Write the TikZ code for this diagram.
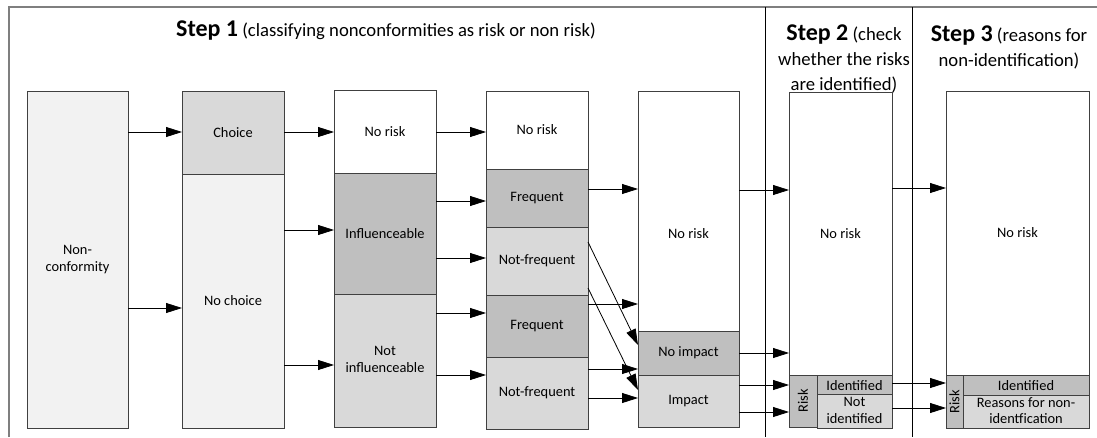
\documentclass[tikz,border=0pt]{standalone}
\usepackage{fontspec}
\setmainfont{Carlito}
\usetikzlibrary{arrows.meta}
\definecolor{GreyLight}{HTML}{F2F2F2}
\definecolor{GreyMid}{HTML}{D9D9D9}
\definecolor{GreyDark}{HTML}{BFBFBF}
\definecolor{FrameGrey}{HTML}{7F7F7F}

% one cell of a column: name, corners (px), fill, text
\newcommand{\boxcell}[7]{\node[cell, fill=#6, minimum width={(#4-#2)*0.75pt},
  minimum height={(#5-#3)*0.75pt}] (#1) at ({(#2+#4)/2},{(#3+#5)/2}) {#7};}
\newcommand{\twolines}[2]{\begin{tabular}{@{}c@{}}#1\\#2\end{tabular}}
\newcommand{\stepfont}{\fontsize{18}{18.75}\selectfont\bfseries}

\begin{document}
\begin{tikzpicture}[x=0.75pt, y=-0.75pt,
    cell/.style={draw=black!75, line width=0.6pt, inner sep=0pt, outer sep=0pt,
      font=\fontsize{10.8}{12.5}\selectfont},
    head/.style={align=center, inner sep=0pt, font=\fontsize{14}{18.75}\selectfont},
    arr/.style={-{Triangle[length=12pt,width=7.5pt]}, line width=0.6pt}]
  \useasboundingbox (0,0) rectangle (1097,437);

  % frame and step separators
  \draw[FrameGrey, line width=1.5pt] (9,437) -- (9,7) -- (1097,7);
  \draw[line width=0.6pt] (765,7) -- (765,437);
  \draw[line width=0.6pt] (912,7) -- (912,437);

  \node[head] (step1) at (386,31) {{\stepfont Step 1} (classifying nonconformities as risk or non risk)};
  \node[head] (step2) at (844,59) {{\stepfont Step 2} (check\\whether the risks\\are identified)};
  \node[head] (step3) at (1009,47) {{\stepfont Step 3} (reasons for\\non-identification)};

  % Step 1
  \boxcell{nc}{27}{91}{128}{428}{GreyLight}{\twolines{Non-}{conformity}}
  \boxcell{choice}{182}{91}{284}{174}{GreyMid}{Choice}
  \boxcell{nochoice}{182}{174}{284}{428}{GreyLight}{No choice}
  \boxcell{norisk1}{334}{90}{436}{173}{white}{No risk}
  \boxcell{infl}{334}{173}{436}{294}{GreyDark}{Influenceable}
  \boxcell{notinfl}{334}{294}{436}{427}{GreyMid}{\twolines{Not}{influenceable}}
  \boxcell{norisk2}{486}{91}{588}{169}{white}{No risk}
  \boxcell{freq1}{486}{169}{588}{227}{GreyDark}{Frequent}
  \boxcell{notfreq1}{486}{227}{588}{295}{GreyMid}{Not-frequent}
  \boxcell{freq2}{486}{295}{588}{357}{GreyDark}{Frequent}
  \boxcell{notfreq2}{486}{357}{588}{429}{GreyMid}{Not-frequent}
  \boxcell{norisk3}{638}{91}{739}{331}{white}{}
  \node[font=\fontsize{10.8}{12.5}\selectfont] (norisk3txt) at (norisk3 |- 0,234) {No risk};
  \boxcell{noimpact}{638}{331}{739}{375}{GreyDark}{No impact}
  \boxcell{impact}{638}{375}{739}{427}{GreyMid}{Impact}

  % Step 2
  \boxcell{norisk4}{789}{92}{892}{375}{white}{No risk}
  \boxcell{risk1}{789}{375}{817}{427}{GreyDark}{\rotatebox{90}{Risk}}
  \boxcell{ident1}{817}{375}{892}{396}{GreyDark}{Identified}
  \boxcell{notident}{817}{396}{892}{427}{GreyMid}{\twolines{Not}{identified}}

  % Step 3
  \boxcell{norisk5}{946}{91}{1089}{375}{white}{No risk}
  \boxcell{risk2}{946}{375}{963}{428}{GreyDark}{\rotatebox{90}{Risk}}
  \boxcell{ident2}{963}{375}{1089}{396}{GreyDark}{Identified}
  \boxcell{reasons}{963}{396}{1089}{428}{GreyMid}{\twolines{Reasons for non-}{identfication}}

  % connectors
  \foreach \a/\b/\y in {nc/choice/132, nc/nochoice/308, choice/norisk1/132,
      nochoice/infl/230, nochoice/notinfl/365, norisk1/norisk2/132,
      infl/freq1/201, infl/notfreq1/258, notinfl/freq2/313, notinfl/notfreq2/375,
      freq1/norisk3/189, freq2/norisk3/304, notfreq2/noimpact/369, notfreq2/impact/398,
      norisk3/norisk4/190, noimpact/norisk4/353, impact/risk1/385, impact/risk1/412,
      norisk4/norisk5/188, ident1/risk2/383, notident/risk2/408}
    \draw[arr] (\a.east |- 0,\y) -- (\b.west |- 0,\y);
  \draw[arr] (notfreq1.east |- 0,242) -- (noimpact.west |- 0,345);
  \draw[arr] (notfreq1.east |- 0,288) -- (impact.west |- 0,390);
\end{tikzpicture}
\end{document}
